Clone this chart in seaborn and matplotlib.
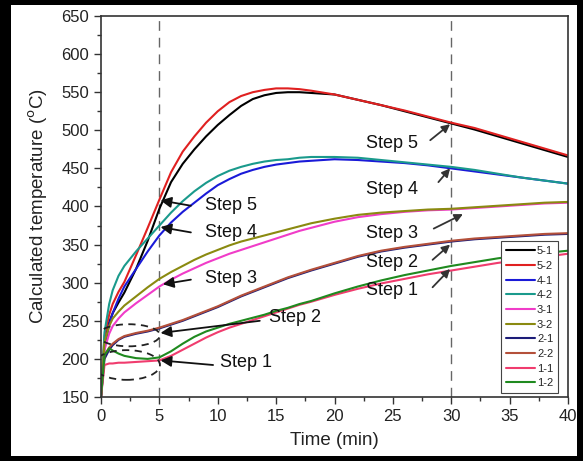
import matplotlib
matplotlib.use("Agg")
import matplotlib.pyplot as plt
from matplotlib.patches import Ellipse, Rectangle
from matplotlib.ticker import MultipleLocator
import seaborn as sns
import pandas as pd

# ---- data ----
time_min = [0, 0.3, 0.7, 1, 1.5, 2, 3, 4, 5, 6, 7, 8, 9, 10, 11, 12, 13, 14, 15, 16,
            17, 18, 20, 22, 24, 26, 28, 30, 32, 34, 36, 38, 40]

s5_1 = [150, 222, 248, 260, 274, 287, 318, 355, 397, 432, 456, 475, 492, 507, 520, 532, 541, 546, 549, 550,
        550, 549, 547, 540, 533, 525, 517, 509, 501, 492, 483, 474, 465]
s5_2 = [150, 230, 258, 272, 288, 301, 336, 372, 409, 445, 472, 492, 510, 525, 537, 545, 550, 553, 555, 555,
        554, 552, 547, 540, 533, 526, 518, 510, 503, 494, 485, 476, 467]
s4_1 = [150, 215, 245, 260, 279, 295, 318, 341, 362, 379, 393, 405, 417, 428, 436, 443, 448, 452, 455, 457,
        459, 460, 462, 461, 459, 457, 454, 450, 446, 442, 438, 434, 430]
s4_2 = [150, 235, 272, 290, 309, 322, 341, 358, 375, 392, 407, 420, 431, 440, 447, 452, 456, 459, 461, 462,
        464, 465, 465, 464, 461, 458, 455, 452, 448, 443, 438, 434, 430]
s3_1 = [150, 212, 233, 243, 253, 261, 273, 284, 295, 304, 312, 319, 326, 332, 338, 343, 348, 353, 358, 363,
        368, 372, 380, 386, 390, 393, 395, 396, 398, 400, 402, 404, 405]
s3_2 = [150, 222, 243, 253, 262, 270, 282, 294, 305, 314, 322, 330, 337, 343, 349, 354, 358, 362, 366, 370,
        374, 378, 384, 389, 392, 394, 396, 397, 399, 401, 403, 405, 406]
s2_1 = [150, 200, 212, 218, 225, 229, 233, 236, 240, 245, 250, 256, 262, 268, 275, 282, 288, 294, 300, 306,
        311, 316, 325, 334, 341, 346, 350, 354, 357, 359, 361, 363, 364]
s2_2 = [150, 205, 215, 220, 226, 230, 234, 237, 241, 246, 251, 257, 263, 269, 276, 283, 289, 295, 301, 307,
        312, 317, 326, 335, 342, 347, 351, 355, 358, 360, 362, 364, 365]
s1_1 = [150, 192, 194, 194, 195, 195, 196, 197, 198, 204, 212, 220, 228, 235, 241, 246, 251, 256, 261, 266,
        271, 275, 284, 292, 299, 305, 311, 316, 321, 326, 330, 334, 338]
s1_2 = [150, 205, 214, 211, 207, 204, 201, 200, 202, 210, 220, 229, 236, 241, 246, 250, 254, 258, 263, 267,
        272, 276, 286, 295, 303, 310, 316, 322, 327, 332, 336, 339, 342]

series_names = ["5-1", "5-2", "4-1", "4-2", "3-1", "3-2", "2-1", "2-2", "1-1", "1-2"]
series_values = [s5_1, s5_2, s4_1, s4_2, s3_1, s3_2, s2_1, s2_2, s1_1, s1_2]
series_colors = ["#000000", "#e02020", "#1a1ad8", "#1a9a8c", "#f03cc8", "#8a8a10",
                 "#1c1c78", "#b4503a", "#f03c6e", "#1f8a1f"]

x_ticks = [0, 5, 10, 15, 20, 25, 30, 35, 40]
y_ticks = [150, 200, 250, 300, 350, 400, 450, 500, 550, 600, 650]

rows = []
for name, vals in zip(series_names, series_values):
    for t, v in zip(time_min, vals):
        rows.append({"Time": t, "Temp": v, "Case": name})
df = pd.DataFrame(rows)

# ---- style ----
sns.set_style("ticks")
plt.rcParams["font.family"] = ["Liberation Sans", "DejaVu Sans"]

fig = plt.figure(figsize=(5.83, 4.61), dpi=100)
fig.patch.set_facecolor("black")
fig.add_artist(Rectangle((11 / 583, 5 / 461), 566 / 583, 451 / 461,
                         transform=fig.transFigure, facecolor="white",
                         edgecolor="none", zorder=-10))
ax = fig.add_axes([101 / 583, 64 / 461, 467 / 583, 381 / 461])
ax.set_facecolor("white")

sns.lineplot(data=df, x="Time", y="Temp", hue="Case", hue_order=series_names,
             palette=dict(zip(series_names, series_colors)), estimator=None,
             sort=False, linewidth=1.5, ax=ax)

ax.set_xlim(0, 40)
ax.set_ylim(150, 650)
ax.set_xticks(x_ticks)
ax.set_yticks(y_ticks)
ax.xaxis.set_minor_locator(MultipleLocator(2.5))
ax.yaxis.set_minor_locator(MultipleLocator(25))
ax.tick_params(axis="both", which="major", length=5, width=1, labelsize=12,
               direction="out", colors="#333333", labelcolor="#222222")
ax.tick_params(axis="both", which="minor", length=3, width=1, direction="out",
               colors="#333333")
for side in ["top", "right", "left", "bottom"]:
    ax.spines[side].set_visible(True)
    ax.spines[side].set_color("#333333")
    ax.spines[side].set_linewidth(1.2)
ax.tick_params(top=False, right=False, which="both")

ax.set_xlabel("Time (min)", fontsize=13.5, color="#222222", labelpad=6)
ax.set_ylabel("Calculated temperature ($^{\\rm o}$C)", fontsize=13.5,
              color="#222222", labelpad=8)

# reference dashed lines
for xv in (5, 30):
    ax.axvline(xv, color="#666666", lw=1.0, ls=(0, (7, 5)), zorder=0)

# ellipses around early stages
ax.add_patch(Ellipse((2.4, 231), 5.3, 29, fill=False, ls=(0, (4, 3)),
                     lw=1.3, color="#222222", zorder=5))
ax.add_patch(Ellipse((2.2, 192), 5.7, 39, fill=False, ls=(0, (4, 3)),
                     lw=1.3, color="#222222", zorder=5))

# annotations
arrow_k = dict(arrowstyle="-|>", color="#111111", lw=1.3, mutation_scale=16,
               shrinkA=0, shrinkB=0)
arrow_g = dict(arrowstyle="-|>", color="#333333", lw=1.3, mutation_scale=12,
               shrinkA=0, shrinkB=0)
tk = dict(fontsize=13, color="#111111", va="center", ha="center")

ax.text(11.1, 401, "Step 5", **tk)
ax.annotate("", xy=(5.1, 408), xytext=(7.7, 401), arrowprops=arrow_k)
ax.text(11.1, 366, "Step 4", **tk)
ax.annotate("", xy=(5.1, 373), xytext=(7.7, 366), arrowprops=arrow_k)
ax.text(11.1, 306, "Step 3", **tk)
ax.annotate("", xy=(5.3, 298), xytext=(7.7, 304), arrowprops=arrow_k)
ax.text(16.6, 254, "Step 2", **tk)
ax.annotate("", xy=(5.1, 234), xytext=(13.6, 250), arrowprops=arrow_k)
ax.text(12.4, 195, "Step 1", **tk)
ax.annotate("", xy=(5.1, 198), xytext=(9.6, 192), arrowprops=arrow_k)

ax.text(24.9, 483, "Step 5", **tk)
ax.annotate("", xy=(29.9, 508), xytext=(28.2, 487), arrowprops=arrow_g)
ax.text(24.9, 422, "Step 4", **tk)
ax.annotate("", xy=(29.9, 450), xytext=(28.9, 432), arrowprops=arrow_g)
ax.text(24.9, 365, "Step 3", **tk)
ax.annotate("", xy=(31.0, 390), xytext=(28.5, 371), arrowprops=arrow_g)
ax.text(24.9, 327, "Step 2", **tk)
ax.annotate("", xy=(29.9, 350), xytext=(28.4, 330), arrowprops=arrow_g)
ax.text(24.9, 290, "Step 1", **tk)
ax.annotate("", xy=(29.9, 318), xytext=(28.4, 294), arrowprops=arrow_g)

sns.move_legend(ax, "lower right", bbox_to_anchor=(0.979, 0.01), title=None,
                frameon=True, fancybox=False, fontsize=8, handlelength=2.6,
                labelspacing=0.42, borderpad=0.45, handletextpad=0.2,
                borderaxespad=0, edgecolor="#444444", framealpha=1)
ax.get_legend().get_frame().set_linewidth(0.8)

fig.savefig("out.png", dpi=100, facecolor=fig.get_facecolor())
